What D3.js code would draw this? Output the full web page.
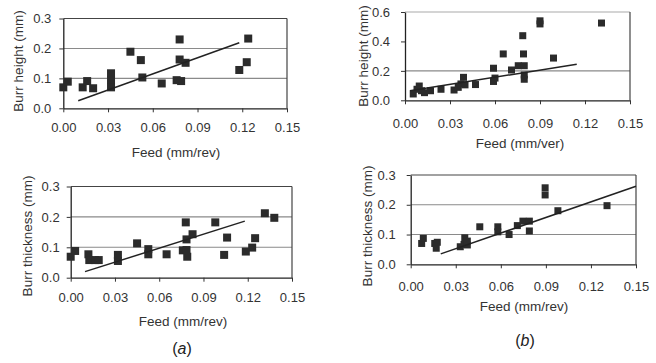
<!DOCTYPE html>
<html>
<head>
<meta charset="utf-8">
<script src="https://cdn.jsdelivr.net/npm/d3@7"></script>
<style>
  body { margin: 0; background: #fff; }
  svg { display: block; font-family: "Liberation Sans", Arial, sans-serif; }
</style>
</head>
<body>
<svg id="chart" width="656" height="363"></svg>
<script>
// values
var xTicks = [0, 0.03, 0.06, 0.09, 0.12, 0.15]

// (a) burr height
var aHeightFeed = [0.000, 0.003, 0.013, 0.016, 0.020, 0.032, 0.032, 0.032, 0.045, 0.052,
                   0.053, 0.066, 0.076, 0.079, 0.078, 0.078, 0.082, 0.118, 0.123, 0.124]
var aHeightVal  = [0.070, 0.089, 0.070, 0.091, 0.067, 0.117, 0.094, 0.070, 0.189, 0.161,
                   0.103, 0.083, 0.094, 0.091, 0.230, 0.163, 0.152, 0.128, 0.154, 0.233]
var aHeightTrend = [[0.010, 0.025], [0.118, 0.219]]

// (a) burr thickness
var aThickFeed = [0.000, 0.003, 0.012, 0.0126, 0.0165, 0.019, 0.032, 0.032, 0.045, 0.0526,
                  0.0526, 0.065, 0.076, 0.078, 0.0785, 0.0785, 0.079, 0.0826, 0.098, 0.104,
                  0.106, 0.1187, 0.123, 0.125, 0.1316, 0.138]
var aThickVal  = [0.069, 0.088, 0.077, 0.058, 0.058, 0.058, 0.075, 0.055, 0.113, 0.094,
                  0.077, 0.077, 0.090, 0.182, 0.126, 0.091, 0.069, 0.143, 0.182, 0.075,
                  0.132, 0.086, 0.099, 0.130, 0.212, 0.197]
var aThickTrend = [[0.0097, 0.020], [0.118, 0.186]]

// (b) burr height
var bHeightFeed = [0.0055, 0.008, 0.0095, 0.011, 0.013, 0.017, 0.024, 0.0327, 0.0355, 0.0373,
                   0.039, 0.040, 0.047, 0.059, 0.059, 0.060, 0.0655, 0.071, 0.0755, 0.0785,
                   0.079, 0.0795, 0.0795, 0.0795, 0.090, 0.090, 0.099, 0.131]
var bHeightVal  = [0.043, 0.075, 0.097, 0.065, 0.052, 0.065, 0.075, 0.070, 0.088, 0.111,
                   0.156, 0.105, 0.107, 0.218, 0.128, 0.151, 0.315, 0.206, 0.235, 0.439,
                   0.315, 0.235, 0.172, 0.143, 0.540, 0.519, 0.287, 0.525]
var bHeightTrend = [[0.0033, 0.065], [0.1145, 0.245]]

// (b) burr thickness
var bThickFeed = [0.0073, 0.0084, 0.016, 0.017, 0.0177, 0.033, 0.0355, 0.036, 0.0377, 0.0377,
                  0.046, 0.058, 0.058, 0.0655, 0.071, 0.0747, 0.079, 0.079, 0.0895, 0.0895,
                  0.098, 0.1307]
var bThickVal  = [0.070, 0.087, 0.070, 0.054, 0.074, 0.059, 0.067, 0.089, 0.065, 0.078,
                  0.126, 0.126, 0.109, 0.100, 0.130, 0.145, 0.145, 0.112, 0.257, 0.233,
                  0.180, 0.197]
var bThickTrend = [[0.020, 0.035], [0.150, 0.262]]

var panels = [
    {feed: aHeightFeed, val: aHeightVal, trend: aHeightTrend,
     yTicks: [0, 0.1, 0.2, 0.3], grid: [0.1, 0.2], yTitle: "Burr height (mm)", xTitle: "Feed (mm/rev)",
     box: {left: 63.3, right: 287, top: 18.5, bottom: 108.3}, xPad: 10, yPad: 8,
     yTitlePos: [18, 61], xTitlePos: [176, 157], marker: 8, topColor: "#444"},
    {feed: aThickFeed, val: aThickVal, trend: aThickTrend,
     yTicks: [0, 0.1, 0.2, 0.3], grid: [0.1, 0.2], yTitle: "Burr thickness (mm)", xTitle: "Feed (mm/rev)",
     box: {left: 70.7, right: 292, top: 186.5, bottom: 277.7}, xPad: 11, yPad: 7,
     yTitlePos: [27, 236], xTitlePos: [183, 326], marker: 8, topColor: "#444"},
    {feed: bHeightFeed, val: bHeightVal, trend: bHeightTrend,
     yTicks: [0, 0.2, 0.4, 0.6], grid: [0.2], yTitle: "Burr height (mm)", xTitle: "Feed (mm/ver)",
     box: {left: 405, right: 630, top: 12, bottom: 100.3}, xPad: 14, yPad: 11,
     yTitlePos: [363, 56], xTitlePos: [520, 148], marker: 7, topColor: "#aaa"},
    {feed: bThickFeed, val: bThickVal, trend: bThickTrend,
     yTicks: [0, 0.1, 0.2, 0.3], grid: [0.1, 0.2], yTitle: "Burr thickness (mm)", xTitle: "Feed (mm/rev)",
     box: {left: 410.7, right: 636, top: 175, bottom: 264.3}, xPad: 13, yPad: 11,
     yTitlePos: [367, 226], xTitlePos: [524, 311], marker: 7, topColor: "#444"}
]

var svg = d3.select("#chart")

panels.forEach(function(p) {
    var b = p.box
    var yMax = d3.max(p.yTicks)

    var xScale = d3.scaleLinear()
                   .domain([0, 0.15])
                   .range([b.left, b.right])
    var yScale = d3.scaleLinear()
                   .domain([0, yMax])
                   .range([b.bottom, b.top])

    var g = svg.append("g")

    // gridlines
    g.selectAll(".grid")
     .data(p.grid)
     .enter()
     .append("line")
     .attr("x1", b.left).attr("x2", b.right)
     .attr("y1", d => yScale(d)).attr("y2", d => yScale(d))
     .attr("stroke", "#8a8a8a")
     .attr("stroke-width", 1.1)

    // frame top and right
    g.append("line")
     .attr("x1", b.left).attr("x2", b.right)
     .attr("y1", yScale(yMax)).attr("y2", yScale(yMax))
     .attr("stroke", p.topColor).attr("stroke-width", 1.2)
    g.append("line")
     .attr("x1", b.right).attr("x2", b.right)
     .attr("y1", yScale(yMax)).attr("y2", yScale(0))
     .attr("stroke", "#444").attr("stroke-width", 1.2)

    var xAxisGen = d3.axisBottom(xScale)
                     .tickValues(xTicks)
                     .tickFormat(d3.format(".2f"))
                     .tickSizeInner(4).tickSizeOuter(0)
                     .tickPadding(p.xPad)
    var xAxis = g.append("g")
                 .attr("transform", `translate(0,${b.bottom})`)
                 .call(xAxisGen)
    var yAxisGen = d3.axisLeft(yScale)
                     .tickValues(p.yTicks)
                     .tickFormat(d3.format(".1f"))
                     .tickSizeInner(4).tickSizeOuter(0)
                     .tickPadding(p.yPad)
    var yAxis = g.append("g")
                 .attr("transform", `translate(${b.left},0)`)
                 .call(yAxisGen)

    g.selectAll(".domain").attr("stroke", "#222").attr("stroke-width", 1.3)
    g.selectAll(".tick line").attr("stroke", "#333")
    g.selectAll(".tick text")
     .attr("fill", "#333")
     .style("font-size", "13px")
     .style("font-family", '"Liberation Sans", Arial, sans-serif')

    // points
    var pts = d3.zip(p.feed, p.val)
    g.selectAll(".pt")
     .data(pts)
     .enter()
     .append("rect")
     .attr("x", d => xScale(d[0]) - p.marker / 2)
     .attr("y", d => yScale(d[1]) - p.marker / 2)
     .attr("width", p.marker)
     .attr("height", p.marker)
     .attr("fill", "#2b2b2b")

    // trend line
    var line = d3.line()
                 .x(d => xScale(d[0]))
                 .y(d => yScale(d[1]))
    g.append("path")
     .attr("d", line(p.trend))
     .attr("fill", "none")
     .attr("stroke", "#222")
     .attr("stroke-width", 1.5)

    // titles
    g.append("text")
     .attr("transform", `translate(${p.yTitlePos[0]},${p.yTitlePos[1]}) rotate(-90)`)
     .attr("text-anchor", "middle")
     .attr("dy", "0.35em")
     .attr("fill", "#333")
     .style("font-size", "13.5px")
     .text(p.yTitle)
    g.append("text")
     .attr("x", p.xTitlePos[0])
     .attr("y", p.xTitlePos[1])
     .attr("text-anchor", "middle")
     .attr("fill", "#333")
     .style("font-size", "13.5px")
     .text(p.xTitle)
})

var captions = [["(a)", 182, 348], ["(b)", 525, 340]]
svg.selectAll(".cap")
   .data(captions)
   .enter()
   .append("text")
   .attr("x", d => d[1])
   .attr("y", d => d[2])
   .attr("dy", "0.35em")
   .attr("text-anchor", "middle")
   .attr("fill", "#222")
   .style("font-size", "16px")
   .style("font-style", d => "normal")
   .html(d => d[0] == "(a)" ? "(<tspan font-style='italic'>a</tspan>)" : "(<tspan font-style='italic'>b</tspan>)")
</script>
</body>
</html>
